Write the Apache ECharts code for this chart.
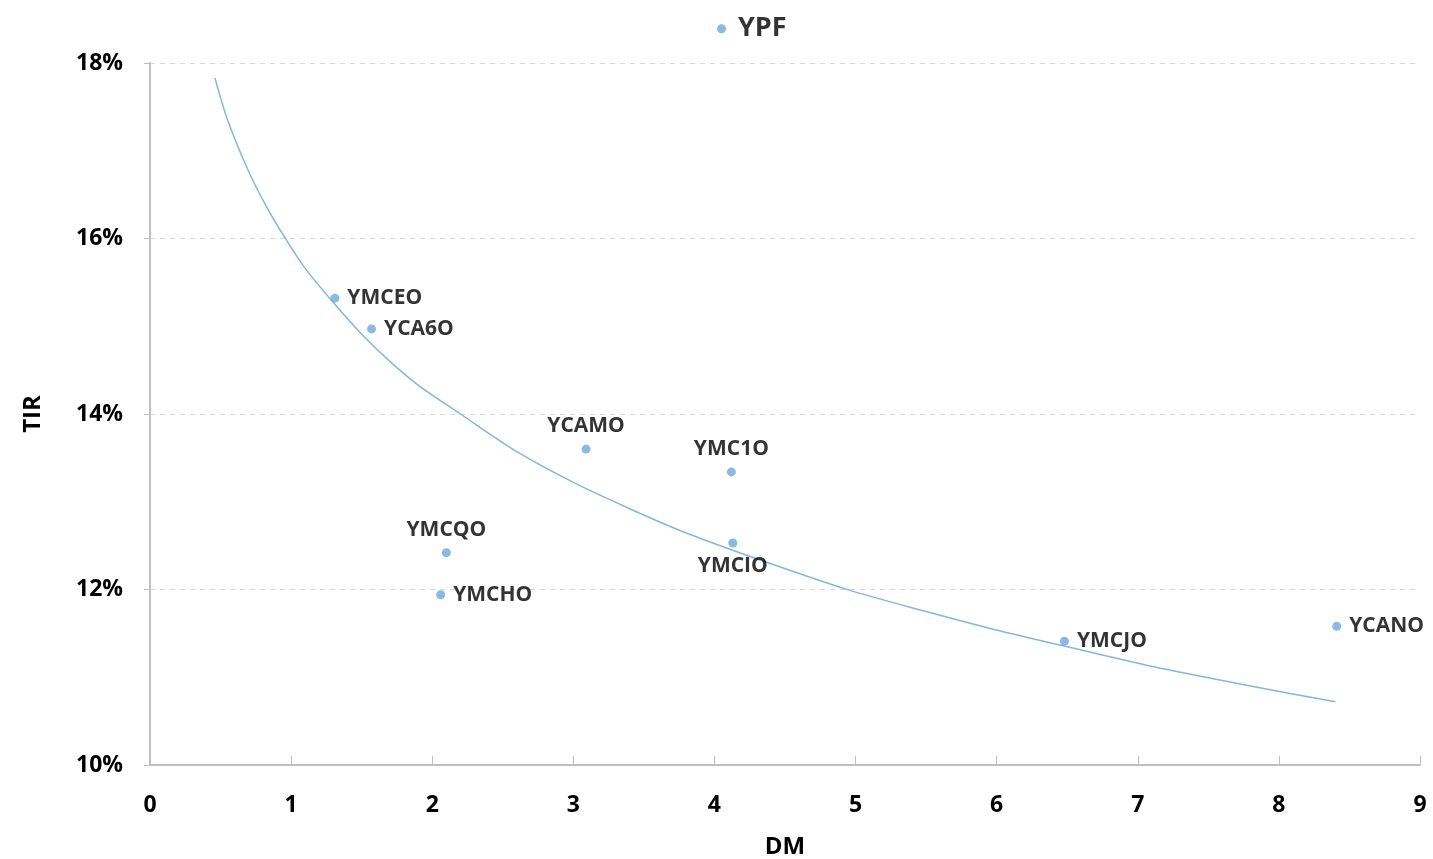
<!DOCTYPE html>
<html>
<head>
<meta charset="utf-8">
<title>TIR vs DM</title>
<script src="https://cdn.jsdelivr.net/npm/echarts@6/dist/echarts.min.js"></script>
<style>
  html, body { margin: 0; padding: 0; background: #fff; }
  #chart { width: 1433px; height: 859px; }
</style>
</head>
<body>
<div id="chart"></div>
<script>
// bonos: nombre, duracion modificada (DM) y TIR en %
var bondNames = ['YPF', 'YMCEO', 'YCA6O', 'YCAMO', 'YMC1O', 'YMCQO', 'YMCHO', 'YMCIO', 'YMCJO', 'YCANO'];
var bondDM    = [4.05, 1.31, 1.57, 3.09, 4.12, 2.10, 2.06, 4.13, 6.48, 8.41];
var bondTIR   = [18.39, 15.32, 14.97, 13.60, 13.34, 12.42, 11.94, 12.53, 11.41, 11.58];
var labelPos  = ['right', 'right', 'right', 'top', 'top', 'top', 'right', 'bottom', 'right', 'right'];

// curva de tendencia
var trendDM  = [0.46, 0.55, 0.70, 0.83, 0.96, 1.10, 1.31, 1.50, 1.70, 1.90, 2.20, 2.60, 3.00, 3.40, 3.76, 4.30, 4.96, 5.50, 6.02, 6.60, 7.20, 7.80, 8.40];
var trendTIR = [17.83, 17.35, 16.76, 16.35, 16.00, 15.66, 15.25, 14.91, 14.60, 14.33, 14.00, 13.57, 13.22, 12.92, 12.67, 12.35, 11.99, 11.75, 11.53, 11.31, 11.09, 10.90, 10.72];

var xTicks = { min: 0, max: 9, interval: 1 };
var yTicks = { min: 10, max: 18, interval: 2 };

var fontFam = '"Open Sans", "DejaVu Sans", sans-serif';
var dotColor = '#6fa7d8';

var pts = [];
for (var i = 0; i < bondNames.length; i++) {
    var big = bondNames[i] === 'YPF';
    pts.push({
        name: bondNames[i],
        value: [bondDM[i], bondTIR[i]],
        label: {
            position: labelPos[i],
            fontSize: big ? 27 : 21,
            distance: big ? 12 : 8
        }
    });
}

var trend = [];
for (var j = 0; j < trendDM.length; j++) {
    trend.push([trendDM[j], trendTIR[j]]);
}

var myChart = echarts.init(document.getElementById('chart'));

var option = {
    backgroundColor: '#ffffff',
    animation: false,
    grid: { left: 150, right: 13, top: 63, bottom: 94, containLabel: false, outerBoundsMode: 'none' },
    xAxis: {
        type: 'value',
        min: xTicks.min, max: xTicks.max, interval: xTicks.interval,
        name: 'DM',
        nameLocation: 'middle',
        nameGap: 70,
        nameTextStyle: { fontFamily: fontFam, fontWeight: 'bold', fontSize: 24, color: '#000' },
        axisLine: { lineStyle: { color: '#bfbfbf', width: 2 } },
        axisTick: { show: true, inside: true, length: 9, lineStyle: { color: '#bfbfbf' } },
        axisLabel: { margin: 29, fontFamily: fontFam, fontWeight: 'bold', fontSize: 23, color: '#000' },
        splitLine: { show: false }
    },
    yAxis: {
        type: 'value',
        min: yTicks.min, max: yTicks.max, interval: yTicks.interval,
        name: 'TIR',
        nameLocation: 'middle',
        nameGap: 105,
        nameTextStyle: { fontFamily: fontFam, fontWeight: 'bold', fontSize: 24, color: '#000' },
        axisLine: { show: true, lineStyle: { color: '#bfbfbf', width: 2 } },
        axisTick: { show: true, length: 6, lineStyle: { color: '#bfbfbf' } },
        axisLabel: {
            margin: 27, fontFamily: fontFam, fontWeight: 'bold', fontSize: 23, color: '#000',
            formatter: '{value}%'
        },
        splitLine: { show: true, lineStyle: { color: '#d9d9d9', type: [5, 5], width: 1 } }
    },
    series: [
        {
            name: 'Tendencia',
            type: 'line',
            data: trend,
            smooth: 0.3,
            showSymbol: false,
            lineStyle: { color: '#86b5df', width: 1.5 },
            z: 1
        },
        {
            name: 'Bonos',
            type: 'scatter',
            data: pts,
            clip: false,
            symbolSize: 9,
            itemStyle: { color: dotColor },
            label: {
                show: true,
                formatter: '{b}',
                fontFamily: fontFam,
                fontWeight: 'bold',
                color: '#000'
            },
            z: 3
        }
    ]
};

myChart.setOption(option);
</script>
</body>
</html>
